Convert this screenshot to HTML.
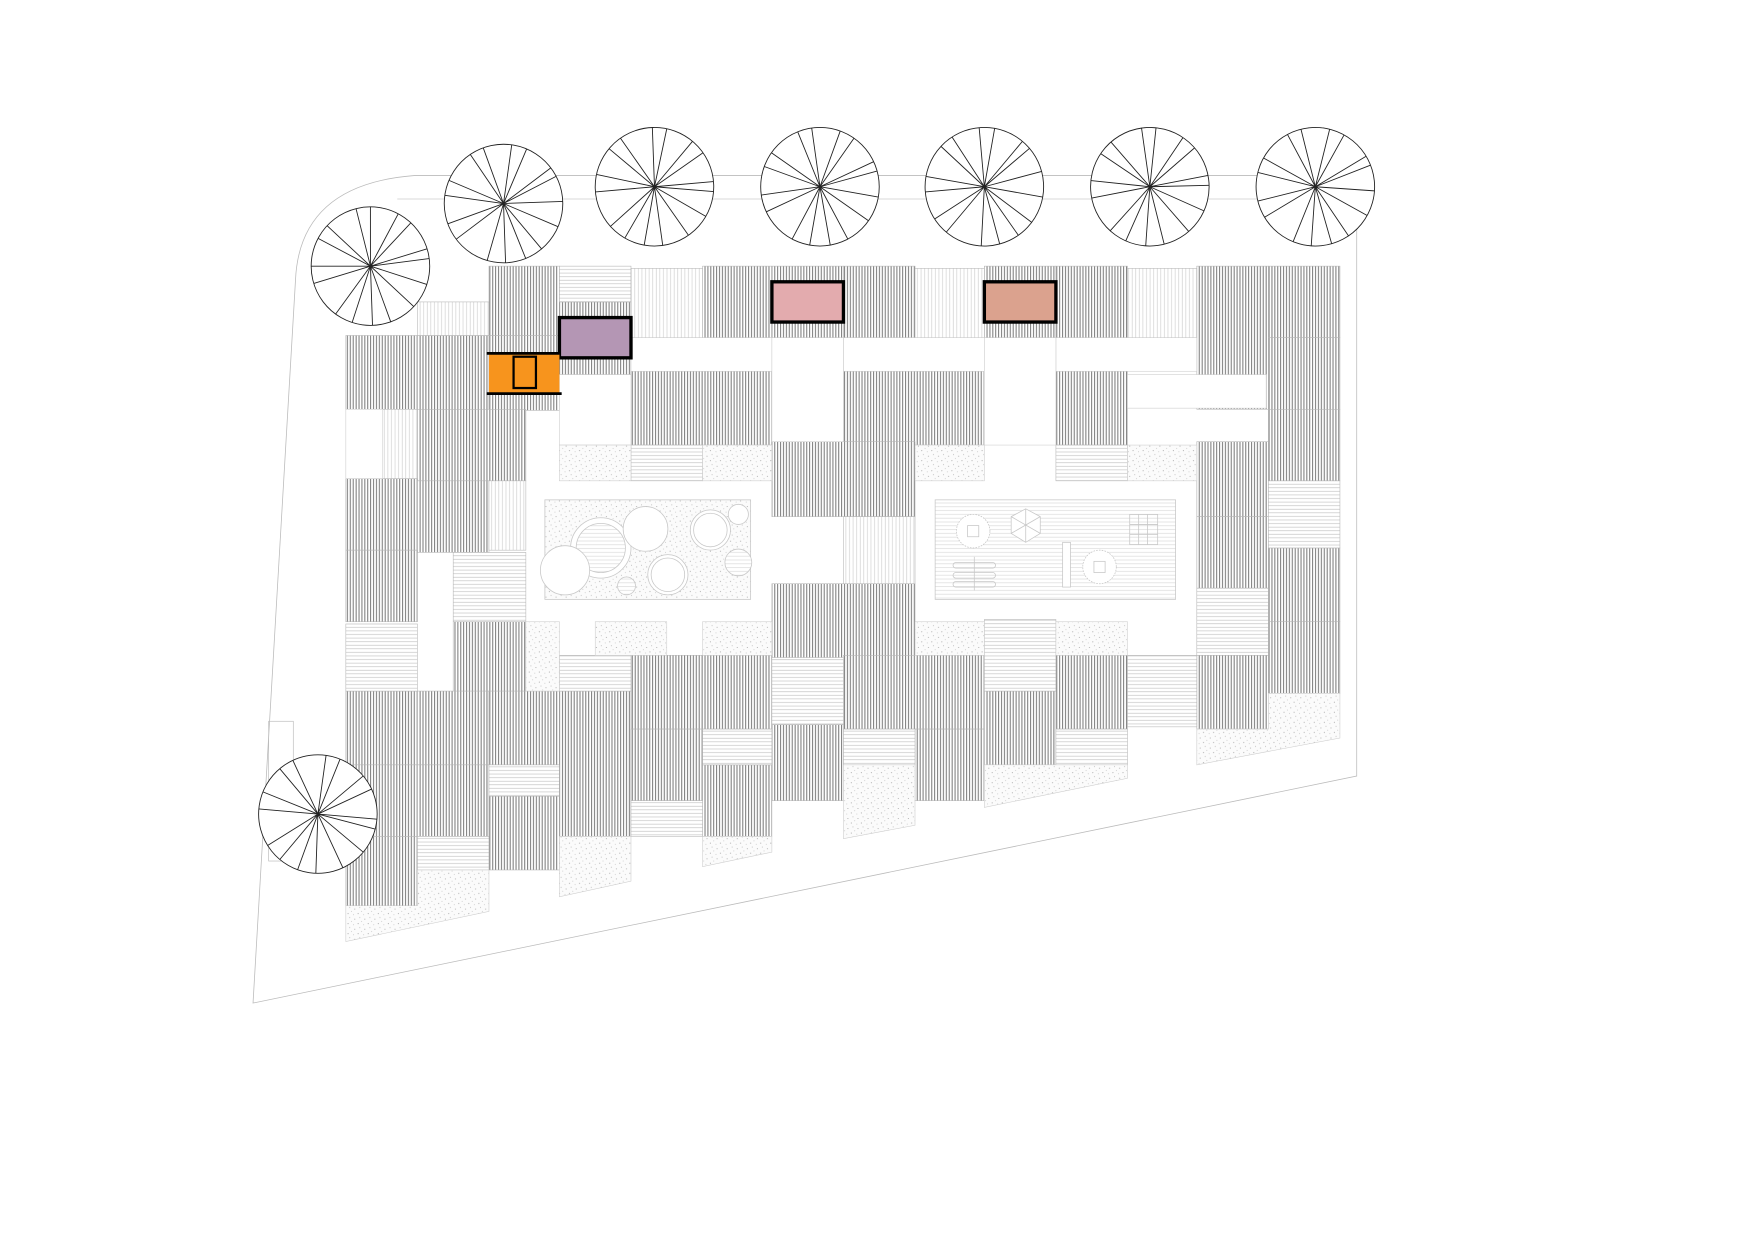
<!DOCTYPE html>
<html><head><meta charset="utf-8"><style>html,body{margin:0;padding:0;background:#fff}svg{display:block}</style></head>
<body>
<svg width="1754" height="1239" viewBox="0 0 1568 1108" xmlns="http://www.w3.org/2000/svg">
<defs>
<pattern id="d" width="2.6" height="10" patternUnits="userSpaceOnUse"><rect width="2.6" height="10" fill="#fff"/><line x1="1" y1="0" x2="1" y2="10" stroke="#666" stroke-width="0.8"/></pattern>
<pattern id="lv" width="3.2" height="10" patternUnits="userSpaceOnUse"><rect width="3.2" height="10" fill="#fff"/><line x1="1" y1="0" x2="1" y2="10" stroke="#cfcfcf" stroke-width="0.6"/></pattern>
<pattern id="lh" width="10" height="3.2" patternUnits="userSpaceOnUse"><rect width="10" height="3.2" fill="#fff"/><line x1="0" y1="1" x2="10" y2="1" stroke="#c4c4c4" stroke-width="0.6"/></pattern>
<pattern id="lh2" width="10" height="3.4" patternUnits="userSpaceOnUse"><rect width="10" height="3.4" fill="#fff"/><line x1="0" y1="1" x2="10" y2="1" stroke="#dadada" stroke-width="0.6"/></pattern>
<pattern id="sp" width="9" height="9" patternUnits="userSpaceOnUse"><rect width="9" height="9" fill="#fbfbfb"/><circle cx="2" cy="3" r="0.45" fill="#999"/><circle cx="6.5" cy="1.5" r="0.4" fill="#aaa"/><circle cx="5" cy="7" r="0.45" fill="#999"/><circle cx="8" cy="5" r="0.35" fill="#aaa"/><circle cx="1" cy="8" r="0.35" fill="#aaa"/></pattern>
<g id="tree" fill="none" stroke="#222" stroke-width="0.8">
<circle r="53" fill="#fff"/>
<path d="M0 0L52.2 9.2M0 0L43.4 30.4M0 0L24.9 46.8M0 0L9.2 52.2M0 0L-9.2 52.2M0 0L-24.9 46.8M0 0L-48 22.4M0 0L-52.5 7.4M0 0L-49.8 -18.1M0 0L-43.4 -30.4M0 0L-19.9 -49.1M0 0L-7.4 -52.5M0 0L18.1 -49.8M0 0L30.4 -43.4M0 0L48 -22.4M0 0L51 -14"/>
</g>
</defs>

<path d="M226 897 L264 250 Q268 165 370 157 L1213 157 L1213 694 Z" fill="none" stroke="#bbb" stroke-width="0.7"/>
<path d="M355 178 L1213 178" stroke="#ccc" stroke-width="0.7"/>
<rect x="240" y="645" width="22" height="125" fill="none" stroke="#bbb" stroke-width="0.6"/>

<g stroke="#b5b5b5" stroke-width="0.5">
<g fill="url(#d)">
<rect x="437" y="238" width="63" height="62"/>
<rect x="628" y="238" width="62" height="64"/>
<rect x="690" y="238" width="64" height="64"/>
<rect x="754" y="238" width="64" height="64"/>
<rect x="880" y="238" width="64" height="64"/>
<rect x="944" y="238" width="64" height="64"/>
<rect x="1070" y="238" width="64" height="128"/>
<rect x="1134" y="238" width="64" height="64"/>
<rect x="309" y="300" width="64" height="66"/>
<rect x="373" y="300" width="64" height="66"/>
<rect x="437" y="300" width="63" height="67"/>
<rect x="500" y="270" width="64" height="65"/>
<rect x="564" y="332" width="126" height="66"/>
<rect x="754" y="332" width="126" height="66"/>
<rect x="944" y="332" width="64" height="66"/>
<rect x="1134" y="302" width="64" height="64"/>
<rect x="373" y="366" width="97" height="64"/>
<rect x="690" y="395" width="128" height="67"/>
<rect x="1070" y="395" width="64" height="67"/>
<rect x="1134" y="366" width="64" height="64"/>
<rect x="309" y="428" width="64" height="64"/>
<rect x="373" y="430" width="64" height="64"/>
<rect x="1070" y="462" width="64" height="64"/>
<rect x="309" y="492" width="64" height="64"/>
<rect x="690" y="522" width="128" height="66"/>
<rect x="1134" y="490" width="64" height="66"/>
<rect x="405" y="556" width="65" height="64"/>
<rect x="564" y="586" width="126" height="66"/>
<rect x="754" y="586" width="126" height="66"/>
<rect x="944" y="586" width="64" height="66"/>
<rect x="1070" y="586" width="64" height="66"/>
<rect x="1134" y="556" width="64" height="64"/>
<rect x="309" y="618" width="64" height="66"/>
<rect x="373" y="618" width="64" height="66"/>
<rect x="437" y="618" width="63" height="66"/>
<rect x="500" y="618" width="64" height="130"/>
<rect x="564" y="652" width="64" height="64"/>
<rect x="690" y="648" width="64" height="68"/>
<rect x="818" y="652" width="62" height="64"/>
<rect x="880" y="618" width="64" height="66"/>
<rect x="628" y="684" width="62" height="64"/>
<rect x="309" y="684" width="64" height="64"/>
<rect x="373" y="684" width="64" height="64"/>
<rect x="437" y="712" width="63" height="66"/>
<rect x="309" y="748" width="64" height="62"/>
</g>
<g fill="url(#lh)">
<rect x="500" y="238" width="64" height="32"/>
<rect x="564" y="398" width="64" height="32"/>
<rect x="944" y="398" width="64" height="32"/>
<rect x="1134" y="430" width="64" height="60"/>
<rect x="405" y="494" width="65" height="62"/>
<rect x="1070" y="526" width="64" height="60"/>
<rect x="309" y="558" width="64" height="60"/>
<rect x="880" y="554" width="64" height="64"/>
<rect x="500" y="586" width="64" height="32"/>
<rect x="690" y="590" width="64" height="58"/>
<rect x="1008" y="586" width="62" height="64"/>
<rect x="628" y="652" width="62" height="32"/>
<rect x="754" y="652" width="64" height="32"/>
<rect x="944" y="652" width="64" height="32"/>
<rect x="437" y="684" width="63" height="28"/>
<rect x="564" y="716" width="64" height="32"/>
<rect x="373" y="748" width="64" height="30"/>
</g>
<g fill="url(#lv)">
<rect x="373" y="270" width="64" height="30"/>
<rect x="564" y="240" width="64" height="62"/>
<rect x="818" y="240" width="62" height="62"/>
<rect x="1008" y="240" width="62" height="62"/>
<rect x="437" y="430" width="33" height="62"/>
<rect x="754" y="462" width="64" height="60"/>
<rect x="342" y="366" width="31" height="62"/>
</g>
<g fill="#fff" stroke="#ccc">
<rect x="309" y="366" width="33" height="62"/>
<rect x="564" y="302" width="126" height="30"/>
<rect x="754" y="302" width="126" height="30"/>
<rect x="944" y="302" width="126" height="30"/>
<rect x="500" y="335" width="64" height="63"/>
<rect x="690" y="302" width="64" height="93"/>
<rect x="880" y="302" width="64" height="96"/>
<rect x="1008" y="335" width="124" height="30"/>
</g>
<g fill="url(#sp)" stroke="#ccc">
<rect x="500" y="398" width="64" height="32"/>
<rect x="628" y="398" width="62" height="32"/>
<rect x="818" y="398" width="62" height="32"/>
<rect x="1008" y="398" width="62" height="32"/>
<rect x="470" y="556" width="30" height="62"/>
<rect x="532" y="556" width="64" height="30"/>
<rect x="628" y="556" width="62" height="30"/>
<rect x="818" y="556" width="62" height="30"/>
<rect x="944" y="556" width="64" height="30"/>
<polygon points="1070,652 1134,652 1134,620 1198,620 1198,660 1070,684"/>
<polygon points="880,684 1008,684 1008,696 880,722"/>
<polygon points="754,684 818,684 818,738 754,750"/>
<polygon points="628,748 690,748 690,762 628,775"/>
<polygon points="500,748 564,748 564,788 500,802"/>
<polygon points="309,810 373,810 373,778 437,778 437,815 309,842"/>
</g>
</g>

<g fill="none" stroke="#c8c8c8" stroke-width="0.7">
<rect x="487" y="447" width="184" height="89" fill="url(#sp)"/>
<circle cx="537" cy="490" r="27" fill="#fff"/>
<circle cx="537" cy="490" r="22" fill="url(#lh2)"/>
<circle cx="577" cy="473" r="20" fill="#fff"/>
<circle cx="635" cy="474" r="18" fill="#fff"/>
<circle cx="635" cy="474" r="15"/>
<circle cx="660" cy="460" r="9" fill="#fff"/>
<circle cx="660" cy="503" r="12" fill="url(#lh2)"/>
<circle cx="597" cy="514" r="18" fill="#fff"/>
<circle cx="597" cy="514" r="15"/>
<circle cx="560" cy="524" r="8" fill="url(#lh2)"/>
<circle cx="505" cy="510" r="22" fill="#fff"/>
<rect x="836" y="447" width="215" height="89" fill="url(#lh2)"/>
<circle cx="870" cy="475" r="15" fill="#fff" stroke-dasharray="1.5 1"/>
<rect x="865" y="470" width="10" height="10"/>
<polygon points="917,455 930,462 930,477 917,485 904,477 904,462" fill="#fff"/>
<path d="M917 455L917 485M904 462L930 477M930 462L904 477"/>
<rect x="1010" y="460" width="25" height="27"/><path d="M1018 460V487M1026 460V487M1010 469H1035M1010 478H1035"/>
<circle cx="983" cy="507" r="15" fill="#fff" stroke-dasharray="1.5 1"/>
<rect x="978" y="502" width="10" height="10"/>
<rect x="950" y="485" width="7" height="40" fill="#fff"/>
<rect x="852" y="503" width="38" height="5" rx="2.5"/><rect x="852" y="512" width="38" height="5" rx="2.5"/><rect x="852" y="520" width="38" height="5" rx="2.5"/>
<path d="M871 498V528"/>
</g>

<rect x="690" y="252" width="64" height="36" fill="#e3abae" stroke="#000" stroke-width="3"/>
<rect x="880" y="252" width="64" height="36" fill="#dba28e" stroke="#000" stroke-width="3"/>
<rect x="500" y="284" width="64" height="36" fill="#b496b4" stroke="#000" stroke-width="3"/>
<rect x="437" y="316" width="63" height="36" fill="#f7941d"/>
<path d="M435 316H500M435 352H502" stroke="#000" stroke-width="2.5"/>
<rect x="459" y="319" width="20" height="28" fill="none" stroke="#000" stroke-width="2"/>

<use href="#tree" transform="translate(331,238) rotate(8)"/>
<use href="#tree" transform="translate(450,182) rotate(-12)"/>
<use href="#tree" transform="translate(585,167) rotate(20)"/>
<use href="#tree" transform="translate(733,167)"/>
<use href="#tree" transform="translate(880,167) rotate(-25)"/>
<use href="#tree" transform="translate(1028,167) rotate(14)"/>
<use href="#tree" transform="translate(1176,167) rotate(-6)"/>
<use href="#tree" transform="translate(284,728) rotate(30)"/>
</svg>
</body></html>
